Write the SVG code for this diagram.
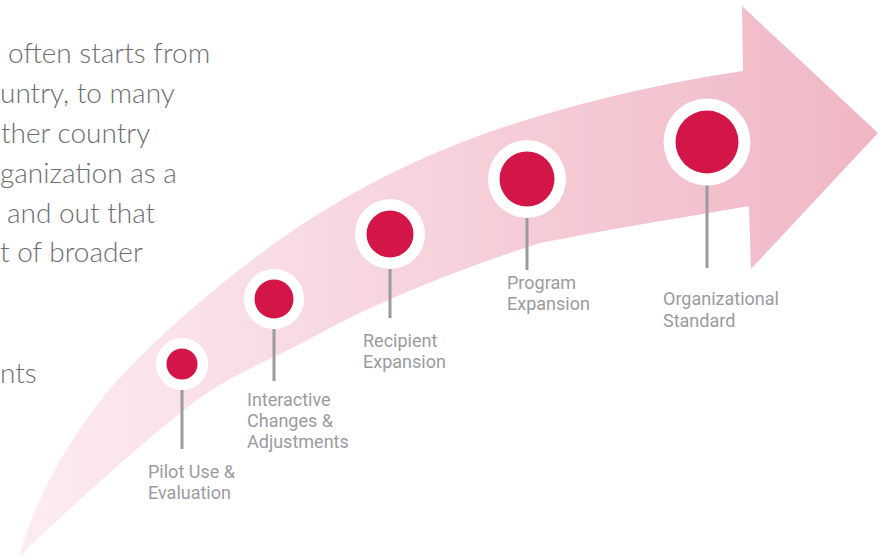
<svg xmlns="http://www.w3.org/2000/svg" width="887" height="558" viewBox="0 0 887 558">
<defs>
<linearGradient id="arrowGrad" gradientUnits="userSpaceOnUse" x1="19" y1="0" x2="878" y2="0">
<stop offset="0" stop-color="#fcecf0"/>
<stop offset="1" stop-color="#f0b6c5"/>
</linearGradient>
<style>
.body{font-family:Lato,"Open Sans","Liberation Sans",sans-serif;font-weight:300;font-size:28px;fill:#6e6e70}
.lbl{font-family:Roboto,"Liberation Sans",sans-serif;font-weight:400;font-size:18px;fill:#9b9b9f}
.ring{fill:#ffffff}
.dot{fill:#d31547}
.stem{stroke:#9a9a9e;stroke-width:3;fill:none}
</style>
</defs>
<rect width="887" height="558" fill="#ffffff"/>
<g id="arrow">
<path fill="url(#arrowGrad)" d="M19,557 C40,480 90,408 127,370 C182,313 260,250 320,213 C400,163 480,132 560,110 C620,93 683,80 743,71 L742,6 L878,133 L751,269 L749,206 C680,218 610,229 540,243 C465,267 383,298.5 313,337 C273,359 240,370 200,398 C160,426 59,517 19,557 Z"/>
</g>
<g id="intro-text" class="body">
<text x="8" y="63">often starts from</text>
<text x="0" y="103">untry, to many</text>
<text x="1" y="143">ther country</text>
<text x="0" y="183">ganization as a</text>
<text x="7" y="223">and out that</text>
<text x="0" y="262">t of broader</text>
<text x="0" y="383">nts</text>
</g>
<g id="connectors">
<line class="stem" x1="182" y1="390" x2="182" y2="449"/>
<line class="stem" x1="274" y1="329" x2="274" y2="381"/>
<line class="stem" x1="390" y1="269" x2="390" y2="318"/>
<line class="stem" x1="527" y1="218" x2="527" y2="270"/>
<line class="stem" x1="707" y1="185" x2="707" y2="268"/>
</g>
<g id="node-pilot">
<circle class="ring" cx="182" cy="364" r="26"/>
<circle class="dot" cx="182" cy="364" r="15.5"/>
<text class="lbl" x="148" y="478">Pilot Use &amp;</text>
<text class="lbl" x="148" y="499">Evaluation</text>
</g>
<g id="node-interactive">
<circle class="ring" cx="274" cy="299" r="30"/>
<circle class="dot" cx="274" cy="299" r="19.5"/>
<text class="lbl" x="247" y="406">Interactive</text>
<text class="lbl" x="247" y="427">Changes &amp;</text>
<text class="lbl" x="247" y="448">Adjustments</text>
</g>
<g id="node-recipient">
<circle class="ring" cx="390" cy="234" r="35"/>
<circle class="dot" cx="390" cy="234" r="23.5"/>
<text class="lbl" x="363" y="347">Recipient</text>
<text class="lbl" x="363" y="368">Expansion</text>
</g>
<g id="node-program">
<circle class="ring" cx="527" cy="179" r="39"/>
<circle class="dot" cx="527" cy="179" r="27.5"/>
<text class="lbl" x="507" y="289">Program</text>
<text class="lbl" x="507" y="310">Expansion</text>
</g>
<g id="node-organizational">
<circle class="ring" cx="707" cy="142" r="43.5"/>
<circle class="dot" cx="707" cy="142" r="31.5"/>
<text class="lbl" x="663" y="305">Organizational</text>
<text class="lbl" x="663" y="327">Standard</text>
</g>
</svg>
